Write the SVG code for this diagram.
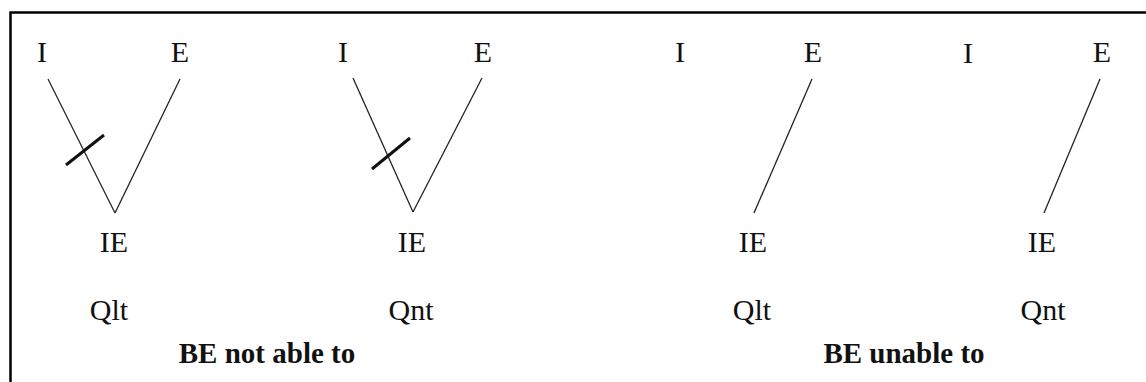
<svg xmlns="http://www.w3.org/2000/svg" width="1146" height="382" viewBox="0 0 1146 382">
<style>
.t{font-family:"Liberation Serif","Times New Roman",serif;font-size:30px;fill:#111;text-anchor:middle}
.b{font-family:"Liberation Serif","Times New Roman",serif;font-size:29px;font-weight:bold;fill:#111;text-anchor:middle}
.l{stroke:#222;stroke-width:1.3;fill:none}
.k{stroke:#111;stroke-width:3;fill:none}
</style>
<rect width="1146" height="382" fill="#fff"/>
<path d="M10.5 382 V12.5 H1146" fill="none" stroke="#000" stroke-width="2.5"/>
<g id="connectors">
<line class="l" x1="48" y1="79" x2="115" y2="213"/>
<line class="l" x1="180" y1="79" x2="115" y2="213"/>
<line class="k" x1="66" y1="165" x2="104" y2="135"/>
<line class="l" x1="353" y1="78" x2="413" y2="212"/>
<line class="l" x1="482" y1="78" x2="413" y2="212"/>
<line class="k" x1="372" y1="169" x2="410" y2="138"/>
<line class="l" x1="812" y1="79" x2="754" y2="213"/>
<line class="l" x1="1100" y1="79" x2="1044" y2="213"/>
</g>
<g id="p1">
<text class="t" x="42" y="62">I</text>
<text class="t" x="180" y="62">E</text>
<text class="t" x="114" y="252">IE</text>
<text class="t" x="109" y="320">Qlt</text>
</g>
<g id="p2">
<text class="t" x="343" y="62">I</text>
<text class="t" x="483" y="62">E</text>
<text class="t" x="412" y="252">IE</text>
<text class="t" x="411" y="320">Qnt</text>
</g>
<g id="p3">
<text class="t" x="680" y="62">I</text>
<text class="t" x="813" y="62">E</text>
<text class="t" x="753" y="252">IE</text>
<text class="t" x="752" y="320">Qlt</text>
</g>
<g id="p4">
<text class="t" x="968" y="63">I</text>
<text class="t" x="1102" y="62">E</text>
<text class="t" x="1042" y="252">IE</text>
<text class="t" x="1043" y="320">Qnt</text>
</g>
<g id="labels">
<text class="b" x="267" y="363">BE not able to</text>
<text class="b" x="904" y="363">BE unable to</text>
</g>
</svg>
